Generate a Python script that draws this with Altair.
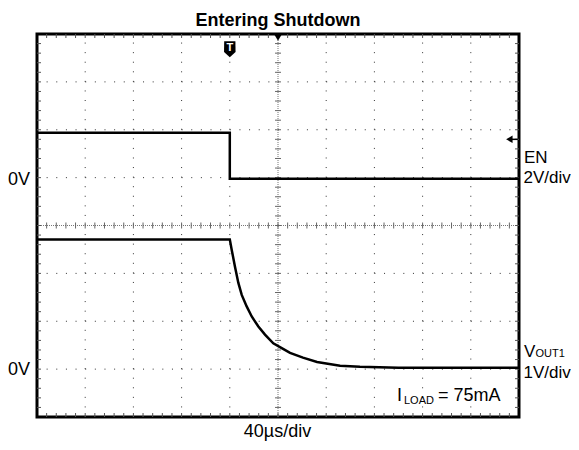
import altair as alt
import pandas as pd

# ---------------- data (read from the scope shot) ----------------
# time in microseconds (40 us/div, 10 div), voltages in volts
t_en = [0, 160, 160, 400]
v_en = [1.87, 1.87, -0.05, -0.05]

t_vout = [0, 160, 161.6, 164.3, 167.1, 169.9, 174.0, 178.2, 183.7, 189.2,
          196.1, 203.1, 210.0, 220.7, 232.4, 251.5, 268.0, 300.0, 400.0]
v_vout = [2.71, 2.71, 2.49, 2.14, 1.80, 1.55, 1.31, 1.10, 0.89, 0.72,
          0.54, 0.44, 0.34, 0.24, 0.15, 0.07, 0.05, 0.03, 0.03]

trigger_time = 160      # us
trigger_level = 1.6     # V on EN

# channel scaling: (volts per division, ground division from bottom)
en_scale, en_ground = 2.0, 5
vout_scale, vout_ground = 1.0, 1

# ---------------- helpers ----------------
SX = alt.Scale(domain=[0, 400], nice=False, zero=False)
SY = alt.Scale(domain=[0, 8], nice=False, zero=False)
one = pd.DataFrame({"a": [0]})


def X(f):
    return alt.X(f, type="quantitative", scale=SX, axis=None)


def Y(f):
    return alt.Y(f, type="quantitative", scale=SY, axis=None)


def XD(v):
    return alt.XDatum(v, type="quantitative", scale=SX, axis=None)


def YD(v):
    return alt.YDatum(v, type="quantitative", scale=SY, axis=None)


# traces
rows = []
for i, (t, v) in enumerate(zip(t_en, v_en)):
    rows.append({"series": "EN", "i": i, "t": t, "v": v})
for i, (t, v) in enumerate(zip(t_vout, v_vout)):
    rows.append({"series": "VOUT1", "i": i, "t": t, "v": v})
traces = pd.DataFrame(rows)

trace_layer = alt.Chart(traces).transform_calculate(
    ydiv=f"datum.series == 'EN' ? {en_ground} + datum.v / {en_scale} : {vout_ground} + datum.v / {vout_scale}"
).mark_line(color="black", strokeWidth=2.5, interpolate="linear").encode(
    x=X("t"), y=Y("ydiv"), detail="series:N", order="i:Q"
)

# grid
vgrid = pd.DataFrame({"t": [40, 80, 120, 160, 240, 280, 320, 360]})
hgrid = pd.DataFrame({"y": [1, 2, 3, 5, 6, 7]})
vgrid_layer = alt.Chart(vgrid).mark_rule(color="#333", strokeWidth=1, strokeDash=[1, 8.575]).encode(
    x=X("t"), y=YD(0), y2=alt.Y2Datum(8))
hgrid_layer = alt.Chart(hgrid).mark_rule(color="#333", strokeWidth=1, strokeDash=[1, 8.64]).encode(
    y=Y("y"), x=XD(0), x2=alt.X2Datum(400))

center_v = alt.Chart(one).mark_rule(color="#777", strokeWidth=1, strokeDash=[1, 1]).encode(
    x=XD(200), y=YD(0), y2=alt.Y2Datum(8))
center_h = alt.Chart(one).mark_rule(color="#777", strokeWidth=1, strokeDash=[1, 1]).encode(
    y=YD(4), x=XD(0), x2=alt.X2Datum(400))

minor_y = pd.DataFrame({"y": [k * 0.2 for k in range(1, 40)]})
minor_x = pd.DataFrame({"t": [k * 8 for k in range(1, 50)]})

cv_ticks = alt.Chart(minor_y).mark_rule(color="#666", strokeWidth=1, xOffset=-3, x2Offset=3).encode(
    y=Y("y"), x=XD(200), x2=alt.X2Datum(200))
ch_ticks = alt.Chart(minor_x).mark_rule(color="#666", strokeWidth=1, yOffset=-3, y2Offset=3).encode(
    x=X("t"), y=YD(4), y2=alt.Y2Datum(4))

top_ticks = alt.Chart(minor_x).mark_rule(color="#555", strokeWidth=1, y2Offset=4).encode(
    x=X("t"), y=YD(8), y2=alt.Y2Datum(8))
bot_ticks = alt.Chart(minor_x).mark_rule(color="#555", strokeWidth=1, y2Offset=-4).encode(
    x=X("t"), y=YD(0), y2=alt.Y2Datum(0))
left_ticks = alt.Chart(minor_y).mark_rule(color="#555", strokeWidth=1, x2Offset=4).encode(
    y=Y("y"), x=XD(0), x2=alt.X2Datum(0))
right_ticks = alt.Chart(minor_y).mark_rule(color="#555", strokeWidth=1, x2Offset=-4).encode(
    y=Y("y"), x=XD(400), x2=alt.X2Datum(400))

# markers
badge = "M-0.7,-1 L0.7,-1 L0.72,0.35 L0,1 L-0.72,0.35 Z"
trig_badge = alt.Chart(one).mark_point(shape=badge, filled=True, color="black", opacity=1, size=256).encode(
    x=XD(trigger_time), y=YD(7.68))
trig_T = alt.Chart(one).mark_text(text="T", color="white", fontSize=11, fontWeight="bold",
                                  font="Liberation Sans", baseline="middle", dy=-1).encode(
    x=XD(trigger_time), y=YD(7.68))
trig_pos = alt.Chart(one).mark_point(shape="triangle-down", filled=True, color="black", opacity=1,
                                     size=80, yOffset=3).encode(x=XD(200), y=YD(8))
lvl_y = en_ground + trigger_level / en_scale
lvl_head = alt.Chart(one).mark_point(shape="triangle-left", filled=True, color="black", opacity=1,
                                     size=55).encode(x=XD(392), y=YD(lvl_y))
lvl_tail = alt.Chart(one).mark_rule(color="black", strokeWidth=1.5).encode(
    x=XD(392), x2=alt.X2Datum(399), y=YD(lvl_y))

# text
F = "Liberation Sans"


def txt(s, x, y, size=18, weight="normal", align="left", baseline="alphabetic"):
    return alt.Chart(one).mark_text(text=s, font=F, fontSize=size, fontWeight=weight, align=align,
                                    baseline=baseline, color="black").encode(
        x=alt.value(x), y=alt.value(y))


texts = [
    txt("Entering Shutdown", 241, -8, 18, "bold", "center"),
    txt("40µs/div", 240.5, 403, 18, "normal", "center"),
    txt("0V", -7, 145.5, 18, "normal", "right", "middle"),
    txt("0V", -7, 335.5, 18, "normal", "right", "middle"),
    txt("EN", 487, 129, 17),
    txt("2V/div", 486.5, 149, 17),
    txt("V", 487, 323, 17),
    txt("OUT1", 498.5, 323, 11),
    txt("1V/div", 486.5, 344, 17),
    txt("I", 360, 367, 18),
    txt("LOAD", 367, 370, 11),
    txt("= 75mA", 401, 367, 18),
]

chart = alt.layer(
    vgrid_layer, hgrid_layer, center_v, center_h, cv_ticks, ch_ticks,
    top_ticks, bot_ticks, left_ticks, right_ticks,
    trace_layer, trig_badge, trig_T, trig_pos, lvl_head, lvl_tail, *texts
).properties(
    width=482, height=383,
    autosize=alt.AutoSizeParams(type="none"),
    padding={"left": 29, "top": 26, "right": 52, "bottom": 25},
    background="white",
).configure_view(stroke="black", strokeWidth=3)

chart.save("out.html", embed_options={"renderer": "svg", "actions": False})
